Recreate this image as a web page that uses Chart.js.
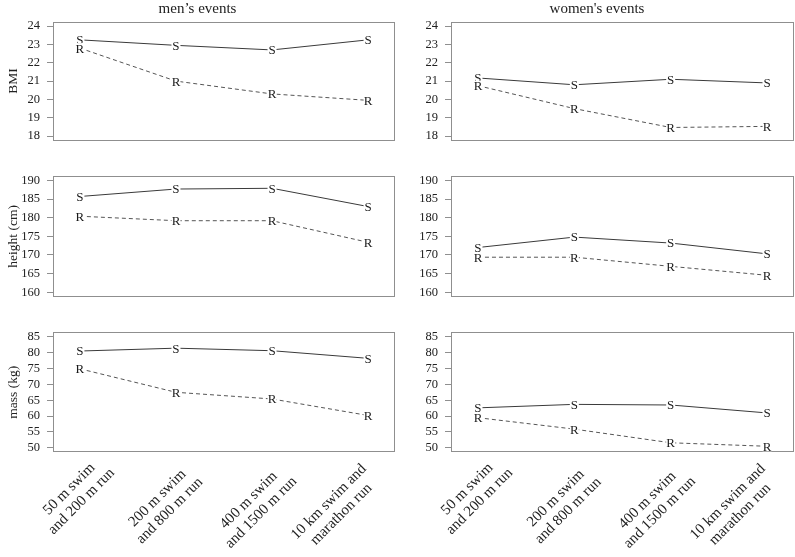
<!DOCTYPE html>
<html><head><meta charset="utf-8">
<script src="https://cdn.jsdelivr.net/npm/chart.js@4"></script>
<style>
html,body{margin:0;padding:0;background:#fff;}
#wrap{position:relative;width:795px;height:557px;overflow:hidden;}
canvas{position:absolute;}
</style></head><body><div id="wrap"></div>
<script>
// ---- data ----
const categories = [["50 m swim","and 200 m run"],["200 m swim","and 800 m run"],["400 m swim","and 1500 m run"],["10 km swim and","marathon run"]];
const eventPositions = [1,2,3,4];
const panelTitles = ["men\u2019s events","women's events"];
const yTitles = ["BMI","height (cm)","mass (kg)"];
const bmiTicks = [18,19,20,21,22,23,24];
const heightTicks = [160,165,170,175,180,185,190];
const massTicks = [50,55,60,65,70,75,80,85];
const seriesLetters = ["S","R"];
const menBmiS = [23.25,22.95,22.7,23.25];
const menBmiR = [22.8,21.0,20.3,19.95];
const womenBmiS = [21.17,20.8,21.1,20.9];
const womenBmiR = [20.75,19.5,18.47,18.53];
const menHeightS = [185.7,187.7,187.9,183.0];
const menHeightR = [180.4,179.2,179.2,173.4];
const womenHeightS = [172.0,174.8,173.2,170.3];
const womenHeightR = [169.4,169.4,166.95,164.55];
const menMassS = [80.5,81.4,80.6,78.2];
const menMassR = [74.9,67.5,65.4,60.2];
const womenMassS = [62.6,63.7,63.5,61.0];
const womenMassR = [59.5,55.9,51.6,50.5];

const SERIF = '"Liberation Serif","Times New Roman",serif';

const boxPlugin = {
  id: 'box',
  beforeDatasetsDraw(chart) {
    const {ctx, chartArea: a} = chart;
    ctx.save();
    ctx.strokeStyle = '#8f8f8f'; ctx.lineWidth = 1;
    ctx.strokeRect(Math.round(a.left) + 0.5, Math.round(a.top) + 0.5,
      Math.round(a.right - a.left) - 1, Math.round(a.bottom - a.top) - 1);
    ctx.restore();
  }
};
const letterPlugin = {
  id: 'letters',
  afterDatasetsDraw(chart) {
    const ctx = chart.ctx;
    chart.data.datasets.forEach((ds, i) => {
      const meta = chart.getDatasetMeta(i);
      meta.data.forEach(pt => {
        ctx.save();
        ctx.fillStyle = '#fff';
        ctx.fillRect(pt.x - 4.5, pt.y - 5, 9, 10);
        ctx.fillStyle = '#1a1a1a';
        ctx.font = '13px ' + SERIF;
        ctx.textAlign = 'center'; ctx.textBaseline = 'alphabetic';
        ctx.fillText(ds.label, pt.x, pt.y + 4.4);
        ctx.restore();
      });
    });
  }
};
const xLabelPlugin = {
  id: 'xlabels',
  afterDraw(chart, args, opts) {
    if (!opts.show) return;
    const {ctx, chartArea: a} = chart;
    const xs = chart.scales.x;
    ctx.save();
    ctx.font = '15px ' + SERIF; ctx.fillStyle = '#222';
    ctx.textAlign = 'center'; ctx.textBaseline = 'middle';
    categories.forEach((lines, i) => {
      const px = xs.getPixelForValue(eventPositions[i]);
      const W = Math.max(...lines.map(l => ctx.measureText(l).width));
      const sh = opts.shift[i];
      ctx.save();
      ctx.translate(px + 22, a.bottom + 15);
      ctx.rotate(-Math.PI / 4);
      ctx.translate(sh[0], sh[1]);
      lines.forEach((l, j) => ctx.fillText(l, -W / 2, (j - (lines.length - 1) / 2) * 17.5));
      ctx.restore();
    });
    ctx.restore();
  }
};

const rows = [
  {ticks: bmiTicks, data: [[menBmiS, menBmiR],[womenBmiS, womenBmiR]], top: 0, height: 155, padTop: 0, padBottom: 13.3},
  {ticks: heightTicks, data: [[menHeightS, menHeightR],[womenHeightS, womenHeightR]], top: 155, height: 157, padTop: 21, padBottom: 15.3},
  {ticks: massTicks, data: [[menMassS, menMassR],[womenMassS, womenMassR]], top: 312, height: 245, padTop: 20.3, padBottom: 104.7}
];
const cols = [
  {left: 0, width: 400, yWidth: 53, padRight: 5},
  {left: 400, width: 395, yWidth: 51, padRight: 1}
];

const wrap = document.getElementById('wrap');
rows.forEach((row, r) => {
  cols.forEach((col, c) => {
    const cv = document.createElement('canvas');
    cv.width = col.width; cv.height = row.height;
    cv.style.left = col.left + 'px'; cv.style.top = row.top + 'px';
    cv.style.width = col.width + 'px'; cv.style.height = row.height + 'px';
    wrap.appendChild(cv);
    const t = row.ticks;
    const ext = 0.04 * (t[t.length - 1] - t[0]);
    const [sVals, rVals] = row.data[c];
    new Chart(cv, {
      type: 'line',
      data: {
        datasets: [
          {label: seriesLetters[0], data: eventPositions.map((x, i) => ({x, y: sVals[i]})),
           borderColor: '#3a3a3a', borderWidth: 1, pointRadius: 0, tension: 0},
          {label: seriesLetters[1], data: eventPositions.map((x, i) => ({x, y: rVals[i]})),
           borderColor: '#555', borderWidth: 1, borderDash: [4, 3], pointRadius: 0, tension: 0}
        ]
      },
      options: {
        responsive: false, animation: false, events: [],
        devicePixelRatio: 1,
        layout: {padding: {left: 0, right: col.padRight, top: row.padTop, bottom: row.padBottom}},
        plugins: {
          legend: {display: false}, tooltip: {enabled: false},
          title: {display: r === 0, text: panelTitles[c], color: '#222',
                  font: {family: SERIF, size: 15, weight: 'normal'}, padding: {top: 0, bottom: 3.7}},
          xlabels: {show: r === 2, shift: [[5, 1], [-7, 2], [-8, 0], [-18, -10]]}
        },
        scales: {
          x: {type: 'linear', min: 0.72, max: 4.28, display: false},
          y: {
            type: 'linear', min: t[0] - ext, max: t[t.length - 1] + ext,
            afterBuildTicks: s => { s.ticks = t.map(v => ({value: v})); },
            afterFit: s => { s.width = col.yWidth; },
            grid: {drawOnChartArea: false, drawTicks: true, tickLength: 6, color: '#8f8f8f'},
            border: {display: false},
            ticks: {color: '#222', padding: 7, font: {family: SERIF, size: 12.5}, autoSkip: false},
            title: {display: c === 0, text: yTitles[r], color: '#222',
                    font: {family: SERIF, size: 13.5}, padding: {top: 5, bottom: 0}}
          }
        }
      },
      plugins: [boxPlugin, letterPlugin, xLabelPlugin]
    });
  });
});
</script>
</body></html>
